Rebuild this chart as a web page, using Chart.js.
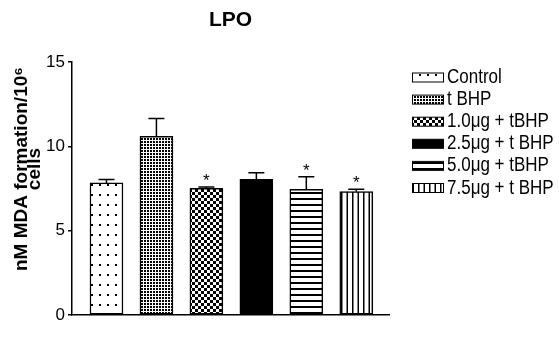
<!DOCTYPE html>
<html><head><meta charset="utf-8">
<script src="https://cdn.jsdelivr.net/npm/chart.js@4"></script>
<style>html,body{margin:0;padding:0;background:#fff}#wrap{width:559px;height:337px;position:relative}</style>
</head><body><div id="wrap"><canvas id="c"></canvas></div>
<script>
const categories = ['Control', 't BHP', '1.0\u03bcg + tBHP', '2.5\u03bcg + t BHP', '5.0\u03bcg + tBHP', '7.5\u03bcg + t BHP'];
const means = [7.83, 10.6, 7.51, 8.04, 7.45, 7.31];
const errors = [0.21, 1.05, 0.08, 0.40, 0.75, 0.14];
const significant = [false, false, true, false, true, true];
const yTicks = [0, 5, 10, 15];
const yTitleLines = ['nM MDA formation/10\u2076', 'cells'];
const patternKinds = ['dots', 'dense', 'checker', 'solid', 'hlines', 'vlines'];

function makePattern(kind) {
  if (kind === 'solid') return '#000';
  const c = document.createElement('canvas');
  const g = c.getContext('2d');
  let w = 6, h = 6;
  if (kind === 'dots') { w = 8; h = 10; }
  if (kind === 'dense') { w = 3; h = 3; }
  if (kind === 'checker') { w = 6; h = 6; }
  if (kind === 'hlines') { w = 6; h = 6; }
  if (kind === 'vlines') { w = 11; h = 4; }
  c.width = w; c.height = h;
  g.fillStyle = '#fff'; g.fillRect(0, 0, w, h);
  g.fillStyle = '#000';
  if (kind === 'dots') g.fillRect(3, 4, 2, 2);
  if (kind === 'dense') g.fillRect(0, 0, 2, 2);
  if (kind === 'checker') { g.fillRect(0, 0, 3, 3); g.fillRect(3, 3, 3, 3); }
  if (kind === 'hlines') g.fillRect(0, 0, 6, 2);
  if (kind === 'vlines') { g.fillRect(0, 0, 1.5, 4); g.fillRect(5.5, 0, 1.5, 4); }
  return document.createElement('canvas').getContext('2d').createPattern(c, 'repeat');
}
const patterns = patternKinds.map(makePattern);

const errorBars = {
  id: 'errorBars',
  afterDatasetsDraw(chart) {
    const ctx = chart.ctx, y = chart.scales.y;
    const meta = chart.getDatasetMeta(0);
    ctx.save();
    ctx.strokeStyle = '#000'; ctx.lineWidth = 1.5; ctx.fillStyle = '#000';
    meta.data.forEach((bar, i) => {
      const x = bar.x;
      const yTop = y.getPixelForValue(means[i] + errors[i]);
      ctx.beginPath();
      ctx.moveTo(x, bar.y); ctx.lineTo(x, yTop);
      ctx.moveTo(x - 8, yTop); ctx.lineTo(x + 8, yTop);
      ctx.stroke();
      if (significant[i]) {
        ctx.font = '17px "Liberation Sans", Arial, sans-serif';
        ctx.textAlign = 'center'; ctx.textBaseline = 'alphabetic';
        ctx.fillText('*', x, yTop - 1);
      }
    });
    ctx.restore();
  }
};

const yTitle = {
  id: 'yTitle',
  afterDraw(chart) {
    const ctx = chart.ctx;
    ctx.save();
    ctx.fillStyle = '#000';
    ctx.font = 'bold 19px "Liberation Sans", Arial, sans-serif';
    ctx.textAlign = 'center'; ctx.textBaseline = 'middle';
    const cy = 169;
    [21.5, 35].forEach((x, i) => {
      ctx.save();
      ctx.translate(x, cy);
      ctx.rotate(-Math.PI / 2);
      ctx.fillText(yTitleLines[i], 0, 0);
      ctx.restore();
    });
    ctx.restore();
  }
};

const legendBoxes = {
  id: 'legendBoxes',
  afterDraw(chart) {
    const ctx = chart.ctx;
    ctx.save();
    categories.forEach((name, i) => {
      const cy = 77.5 + i * 22.1;
      ctx.fillStyle = patterns[i];
      ctx.fillRect(412, cy - 4.5, 31, 9);
      ctx.strokeStyle = '#000'; ctx.lineWidth = 1;
      ctx.strokeRect(412.5, cy - 4.5, 31, 9);
      ctx.fillStyle = '#000';
      ctx.font = '20px "Liberation Sans", Arial, sans-serif';
      ctx.textAlign = 'left'; ctx.textBaseline = 'middle';
      ctx.save();
      ctx.translate(447, cy);
      ctx.scale(0.85, 1);
      ctx.fillText(name, 0, 0);
      ctx.restore();
    });
    ctx.restore();
  }
};

new Chart(document.getElementById('c'), {
  type: 'bar',
  data: {
    datasets: [{
      label: 'LPO',
      data: means.map((v, i) => ({ x: i, y: v })),
      backgroundColor: patterns,
      borderColor: '#000',
      borderWidth: 1.5,
      borderSkipped: false,
      barThickness: 33,
      grouped: false
    }]
  },
  options: {
    responsive: true,
    maintainAspectRatio: false,
    animation: false,
    layout: { padding: { left: 0, right: 170, top: 0, bottom: 14 } },
    plugins: {
      legend: { display: false },
      tooltip: { enabled: false },
      title: {
        display: true, text: 'LPO', fullSize: false, color: '#000',
        font: { family: '"Liberation Sans", Arial, sans-serif', size: 21, weight: 'bold', lineHeight: 1.2 },
        padding: { top: 8, bottom: 28.8 }
      }
    },
    scales: {
      x: {
        type: 'linear', min: -0.69, max: 5.655, offset: false,
        ticks: { display: false },
        grid: { display: false },
        border: { display: true, color: '#000', width: 1.5 }
      },
      y: {
        min: 0, max: 15,
        afterFit(scale) { scale.width = 72; },
        afterBuildTicks(scale) { scale.ticks = yTicks.map(v => ({ value: v })); },
        ticks: { color: '#000', padding: 3, font: { family: '"Liberation Sans", Arial, sans-serif', size: 17 } },
        grid: { drawOnChartArea: false, drawTicks: true, tickLength: 4, color: '#000', lineWidth: 1.5 },
        border: { display: true, color: '#000', width: 1.5 },
        title: { display: false }
      }
    }
  },
  plugins: [errorBars, yTitle, legendBoxes]
});
</script></body></html>
